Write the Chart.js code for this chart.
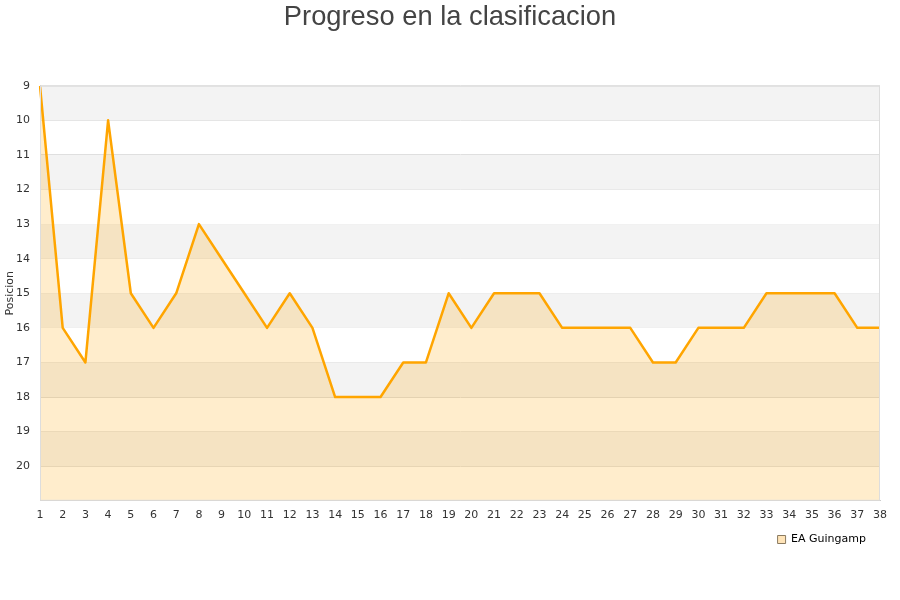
<!DOCTYPE html>
<html lang="es">
<head>
    <meta charset="UTF-8" />
    <title>Progreso en la clasificacion</title>
    <script src="https://cdn.jsdelivr.net/npm/chart.js"></script>
    <style>
        html, body { margin: 0; padding: 0; background: #fff; }
        #wrap { width: 900px; height: 600px; }
    </style>
</head>
<body>
<div id="wrap"><canvas id="chart" width="900" height="600"></canvas></div>
<script>
    // jornadas y posiciones
    const jornadas = ['1','2','3','4','5','6','7','8','9','10','11','12','13','14','15','16','17','18','19',
        '20','21','22','23','24','25','26','27','28','29','30','31','32','33','34','35','36','37','38'];
    const posiciones = [9, 16, 17, 10, 15, 16, 15, 13, 14, 15, 16, 15, 16, 18, 18, 18, 17, 17, 15,
        16, 15, 15, 15, 16, 16, 16, 16, 17, 17, 16, 16, 16, 15, 15, 15, 15, 16, 16];
    const equipo = 'EA Guingamp';
    const posMin = 9;
    const posMax = 21;

    // bandas grises alternas + marco
    const bandas = {
        id: 'bandas',
        afterLayout(chart) {
            // titulo centrado en todo el ancho
            const t = chart.titleBlock;
            t.left = 0;
            t.right = chart.width;
            t.width = chart.width;
        },
        beforeDatasetsDraw(chart) {
            const { ctx, chartArea, scales } = chart;
            ctx.save();
            ctx.fillStyle = '#f3f3f3';
            for (let v = posMin; v < posMax; v += 2) {
                const y1 = scales.y.getPixelForValue(v);
                const y2 = scales.y.getPixelForValue(v + 1);
                ctx.fillRect(chartArea.left, y1, chartArea.right - chartArea.left, y2 - y1);
            }
            ctx.restore();
        },
        afterDraw(chart) {
            const { ctx, chartArea } = chart;
            ctx.save();
            ctx.strokeStyle = '#dddddd';
            ctx.lineWidth = 1;
            ctx.strokeRect(chartArea.left + 0.5, chartArea.top + 0.5,
                chartArea.right - chartArea.left - 1, chartArea.bottom - chartArea.top - 1);
            ctx.restore();
        }
    };

    const ctx = document.getElementById('chart').getContext('2d');
    new Chart(ctx, {
        type: 'line',
        data: {
            labels: jornadas,
            datasets: [{
                label: equipo,
                data: posiciones,
                borderColor: '#ffa500',
                backgroundColor: 'rgba(255,165,0,0.2)',
                borderWidth: 2.5,
                borderJoinStyle: 'round',
                pointRadius: 0,
                tension: 0,
                fill: { value: posMax }
            }]
        },
        options: {
            responsive: false,
            animation: false,
            layout: { padding: { left: 0, right: 20, top: 0, bottom: 45 } },
            plugins: {
                title: {
                    display: true,
                    text: 'Progreso en la clasificacion',
                    color: '#444',
                    font: { family: 'Liberation Sans', size: 27.3, weight: 'normal' },
                    padding: { top: 1, bottom: 52 }
                },
                legend: {
                    position: 'bottom',
                    align: 'end',
                    labels: {
                        color: '#222',
                        font: { family: 'DejaVu Sans', size: 11 },
                        boxWidth: 8,
                        boxHeight: 8,
                        padding: 14,
                        generateLabels: (chart) => [{
                            text: equipo,
                            fillStyle: '#ffe4b8',
                            strokeStyle: '#8a7a60',
                            lineWidth: 1,
                            datasetIndex: 0
                        }]
                    }
                },
                tooltip: { enabled: false }
            },
            scales: {
                x: {
                    offset: false,
                    grid: { display: false, drawTicks: false },
                    border: { color: '#ccc' },
                    afterFit: (scale) => { scale.height -= 10; },
                    ticks: {
                        color: '#333',
                        font: { family: 'DejaVu Sans', size: 11 },
                        maxRotation: 0,
                        autoSkip: false,
                        padding: 8
                    }
                },
                y: {
                    reverse: true,
                    min: posMin,
                    max: posMax,
                    grid: { color: '#dddddd', drawTicks: false },
                    border: { color: '#ccc' },
                    afterFit: (scale) => { scale.width = 40; },
                    ticks: {
                        stepSize: 1,
                        color: '#333',
                        font: { family: 'DejaVu Sans', size: 11 },
                        padding: 10,
                        callback: (v) => v === posMax ? '' : v
                    },
                    title: {
                        display: true,
                        text: 'Posicion',
                        color: '#333',
                        font: { family: 'DejaVu Sans', size: 11 },
                        padding: { top: 4, bottom: 0 }
                    }
                }
            }
        },
        plugins: [bandas]
    });
</script>
</body>
</html>
